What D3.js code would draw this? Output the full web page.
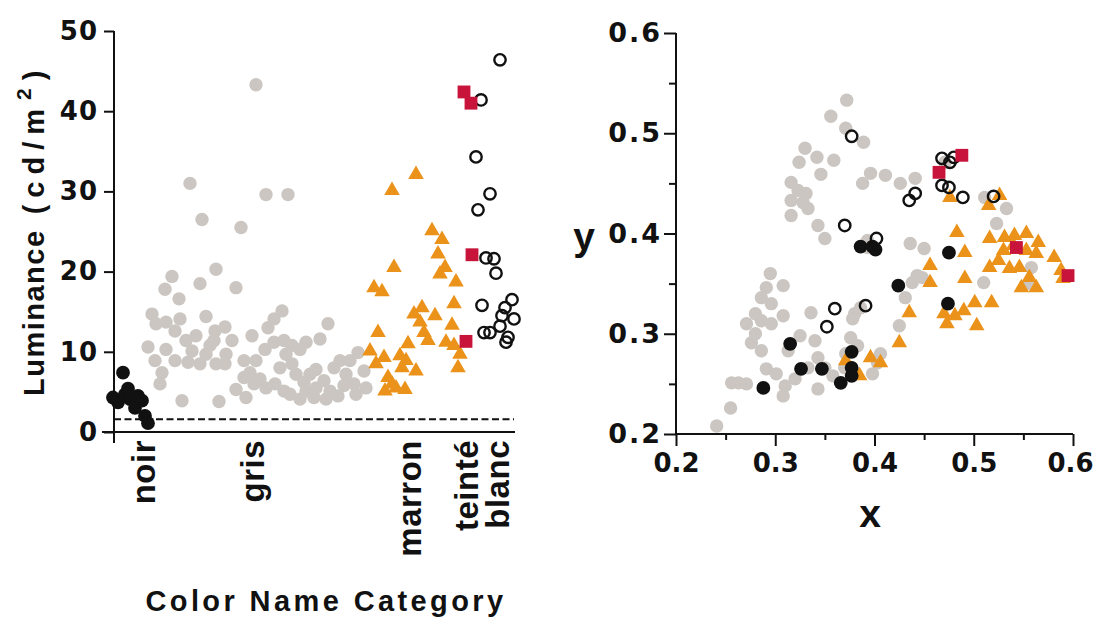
<!DOCTYPE html>
<html>
<head>
<meta charset="utf-8">
<script src="https://cdn.jsdelivr.net/npm/d3@7"></script>
<style>
body { margin: 0; background: #fff; }
svg { display: block; }
</style>
</head>
<body>
<script>
// ---- data ----
// left panel: [jitter position along category axis, luminance cd/m2]
var categories = ["noir", "gris", "marron", "teinté", "blanc"];
var categoryPos = [16, 70.5, 149, 177.5, 193];
var lumTicks = [0, 10, 20, 30, 40, 50];
var lumThreshold = 1.6;

var noirLum = [[4.5,7.4],[-0.5,4.3],[2,3.7],[5.5,4.7],[7,5.4],[8,4.1],[10.5,3.0],[14,3.9],[15.5,2.0],[17,1.1],[12,4.5]];

var grisLum = [
  [71,43.3],[38,31.0],[76,29.6],[87,29.6],[44,26.5],[63.5,25.5],[51,20.3],[29,19.4],[43,18.5],[25.5,17.8],[61,18.0],[32.5,16.6],
  [19,14.7],[21,13.5],[26,13.7],[33,14.1],[30.5,12.6],[46,14.4],[50.5,12.6],[55.5,13.1],[84,15.1],[80,14.1],[77,13.0],[69,12.0],[107,13.5],[103,11.6],
  [17,10.6],[26,10.3],[20.5,8.9],[24,7.4],[23,6.0],[30.5,8.9],[36,11.4],[41,12.0],[39,10.1],[43,8.5],[48,10.8],[51,8.5],[56,9.7],[59,11.4],[55.5,8.5],
  [65,8.9],[68,7.4],[61,5.3],[66,4.3],[71,8.9],[75.5,10.3],[80,11.2],[85,11.4],[89,10.8],[93,10.3],[96,11.2],
  [73,6.6],[76,5.5],[80.5,6.0],[85,5.1],[89,8.5],[91,7.2],[95,6.2],[98,7.2],[101,5.5],[105,6.4],[108,5.1],[110,8.0],[113,8.9],[116,7.2],
  [120,6.0],[121,4.7],[125,7.6],[126,5.5],[122,9.9],[118,8.9],[112,4.5],[93,4.1],[100,4.3],[106,4.1],
  [34,3.9],[52.5,3.8],[88,4.7],[86,9.7],[37,8.7],[46,9.7],[50,11.4],[65,6.8],[70,6.0],[83,8.0],[96,5.1],[115,5.8],[101,7.8]
];

var marronLum = [
  [151,32.1],[139,30.1],[159,25.1],[164,24.0],[162,22.2],[165.5,20.5],[163,19.7],[140,20.5],[130,18.0],[134,17.5],[171,18.7],[170,16.0],
  [154,15.5],[150,14.7],[153,13.7],[160.5,14.5],[169,13.3],[132,12.4],[155,12.4],[157,11.4],[147,11.0],[166,11.2],[170,10.8],
  [128,10.1],[135,9.3],[131,8.5],[143,9.5],[146,8.9],[144,8.0],[151,7.6],[173,9.7],[172,8.0],[137,6.8],[139,6.0],[135.5,5.1],[141,5.5],[145.5,5.3]
];

var teinteLum = [[175,42.4],[178.5,41.0],[179,22.1],[176,11.3]];

var blancLum = [
  [193,46.4],[183.5,41.4],[181,34.3],[188,29.7],[182,27.7],[186,21.7],[190,21.6],[191,19.8],[184,15.8],
  [199,16.5],[195.5,15.5],[194,14.5],[200,14.1],[185,12.4],[188,12.4],[193,13.2],[197,11.8],[196,11.2]
];

// right panel: CIE chromaticity [x, y]
var chromTicks = [0.2, 0.3, 0.4, 0.5, 0.6];
var chromMinor = [0.25, 0.35, 0.45, 0.55];

var grisXY = [
  [0.372,0.533],[0.356,0.517],[0.371,0.505],[0.389,0.491],[0.330,0.485],[0.342,0.476],[0.359,0.473],[0.324,0.471],[0.346,0.459],
  [0.316,0.451],[0.323,0.443],[0.331,0.440],[0.316,0.433],[0.328,0.431],[0.333,0.425],[0.316,0.418],
  [0.388,0.450],[0.396,0.460],[0.411,0.458],[0.426,0.450],[0.441,0.455],[0.343,0.408],[0.350,0.395],[0.393,0.393],[0.436,0.390],
  [0.450,0.385],[0.471,0.471],[0.511,0.436],[0.533,0.425],[0.523,0.410],
  [0.443,0.358],[0.438,0.351],[0.448,0.356],[0.431,0.336],[0.425,0.308],[0.510,0.351],[0.558,0.366],[0.556,0.350],
  [0.295,0.360],[0.291,0.346],[0.286,0.336],[0.296,0.330],[0.308,0.348],[0.308,0.318],[0.280,0.320],[0.271,0.310],[0.286,0.313],
  [0.296,0.310],[0.276,0.291],[0.286,0.283],[0.280,0.300],
  [0.336,0.321],[0.325,0.298],[0.340,0.293],[0.313,0.283],[0.291,0.265],[0.301,0.260],[0.310,0.248],[0.308,0.238],[0.320,0.255],
  [0.333,0.266],[0.343,0.276],[0.350,0.266],[0.343,0.245],[0.358,0.258],[0.370,0.266],
  [0.376,0.296],[0.383,0.288],[0.380,0.320],[0.378,0.315],[0.386,0.326],[0.371,0.280],[0.398,0.260],[0.406,0.280],[0.403,0.271],
  [0.256,0.251],[0.271,0.250],[0.263,0.251],[0.255,0.226],[0.241,0.208],[0.393,0.386]
];

var marronXY = [
  [0.526,0.438],[0.515,0.428],[0.476,0.436],[0.483,0.401],[0.516,0.395],[0.491,0.381],[0.531,0.396],[0.541,0.398],[0.553,0.400],
  [0.565,0.391],[0.530,0.383],[0.540,0.388],[0.553,0.383],[0.563,0.380],[0.581,0.376],[0.525,0.373],[0.516,0.366],[0.536,0.365],
  [0.546,0.366],[0.588,0.363],[0.590,0.355],[0.548,0.346],[0.563,0.346],[0.556,0.356],[0.491,0.355],[0.456,0.368],[0.456,0.351],
  [0.501,0.331],[0.518,0.331],[0.490,0.323],[0.470,0.320],[0.481,0.318],[0.473,0.310],[0.503,0.308],[0.435,0.321],[0.425,0.291],
  [0.396,0.276],[0.406,0.271],[0.371,0.273],[0.385,0.258]
];

var teinteXY = [[0.488,0.478],[0.465,0.461],[0.543,0.386],[0.595,0.358]];

var noirXY = [
  [0.288,0.246],[0.315,0.290],[0.326,0.265],[0.347,0.265],[0.366,0.251],[0.377,0.282],[0.377,0.266],[0.377,0.258],
  [0.386,0.387],[0.398,0.387],[0.401,0.384],[0.424,0.348],[0.475,0.381],[0.474,0.330]
];

var blancXY = [
  [0.377,0.497],[0.370,0.408],[0.402,0.395],[0.360,0.325],[0.352,0.307],[0.391,0.328],[0.435,0.433],[0.441,0.440],
  [0.468,0.448],[0.475,0.446],[0.489,0.436],[0.520,0.437],[0.468,0.475],[0.476,0.471],[0.480,0.476]
];

// ---- colours ----
var grayFill = "#cbc6c1";
var orangeFill = "#eb921b";
var redFill = "#c8143a";
var ink = "#111";
var textFont = "Liberation Sans, Arial, sans-serif";

var w = 1098;
var h = 619;

var svg = d3.select("body")
            .append("svg")
            .attr("width", w)
            .attr("height", h);

// scales
var xL = d3.scaleLinear().domain([0, 200]).range([114, 514]);
var yL = d3.scaleLinear().domain([0, 50]).range([432, 31]);
var xR = d3.scaleLinear().domain([0.2, 0.6]).range([676, 1073]);
var yR = d3.scaleLinear().domain([0.2, 0.6]).range([434, 33]);

var triangle = d3.symbol().type(d3.symbolTriangle).size(105);
var square = d3.symbol().type(d3.symbolSquare).size(165);

//draw one panel's worth of markers
function drawMarks(g, xs, ys, sets) {
    g.selectAll("circle.gris")
        .data(sets.gris).enter().append("circle")
        .attr("class", "gris")
        .attr("cx", function(d) { return xs(d[0]); })
        .attr("cy", function(d) { return ys(d[1]); })
        .attr("r", 6.7)
        .style("fill", grayFill);

    g.selectAll("path.marron")
        .data(sets.marron).enter().append("path")
        .attr("class", "marron")
        .attr("d", triangle)
        .attr("transform", function(d) { return "translate(" + xs(d[0]) + "," + ys(d[1]) + ")"; })
        .style("fill", orangeFill);

    g.selectAll("circle.blanc")
        .data(sets.blanc).enter().append("circle")
        .attr("class", "blanc")
        .attr("cx", function(d) { return xs(d[0]); })
        .attr("cy", function(d) { return ys(d[1]); })
        .attr("r", 5.7)
        .style("fill", "none")
        .style("stroke", ink)
        .style("stroke-width", 2.4);

    g.selectAll("path.teinte")
        .data(sets.teinte).enter().append("path")
        .attr("class", "teinte")
        .attr("d", square)
        .attr("transform", function(d) { return "translate(" + xs(d[0]) + "," + ys(d[1]) + ")"; })
        .style("fill", redFill);

    g.selectAll("circle.noir")
        .data(sets.noir).enter().append("circle")
        .attr("class", "noir")
        .attr("cx", function(d) { return xs(d[0]); })
        .attr("cy", function(d) { return ys(d[1]); })
        .attr("r", 6.9)
        .style("fill", ink);
}

function styleAxis(g, size) {
    g.select(".domain").remove();
    g.attr("font-family", "DejaVu Sans").attr("font-weight", "bold").attr("font-size", size);
    g.selectAll("line").attr("stroke", ink).attr("stroke-width", 2);
    g.selectAll("text").attr("fill", ink);
}

// ---------------- left panel ----------------
var left = svg.append("g");

// threshold dashed line
left.append("line")
    .attr("x1", xL(0)).attr("x2", xL(200))
    .attr("y1", yL(lumThreshold)).attr("y2", yL(lumThreshold))
    .attr("stroke", ink).attr("stroke-width", 2)
    .attr("stroke-dasharray", "7,3.5");

drawMarks(left, xL, yL, {gris: grisLum, marron: marronLum, blanc: blancLum, teinte: teinteLum, noir: noirLum});

var yAxisL = left.append("g")
    .attr("transform", "translate(" + xL(0) + ",0)")
    .call(d3.axisLeft(yL).tickValues(lumTicks).tickSize(10).tickPadding(6));
styleAxis(yAxisL, 26);
yAxisL.selectAll("text").attr("letter-spacing", 1);

// axis lines
left.append("line")
    .attr("x1", xL(0)).attr("x2", xL(0))
    .attr("y1", yL(50)).attr("y2", yL(0) + 11)
    .attr("stroke", ink).attr("stroke-width", 2);
left.append("line")
    .attr("x1", xL(-6)).attr("x2", xL(200.5))
    .attr("y1", yL(0)).attr("y2", yL(0))
    .attr("stroke", ink).attr("stroke-width", 2);

// category labels
left.selectAll("text.cat")
    .data(categories).enter().append("text")
    .attr("class", "cat")
    .attr("transform", function(d, i) { return "translate(" + (xL(categoryPos[i]) + 9) + ",440) rotate(-90)"; })
    .attr("text-anchor", "end")
    .attr("letter-spacing", 0.5)
    .style("font-family", textFont)
    .style("font-weight", "bold")
    .style("font-size", "33px")
    .style("fill", ink)
    .text(function(d) { return d; });

// y title
var ttl = left.append("text")
    .attr("transform", "translate(44,396) rotate(-90)")
    .style("font-family", textFont)
    .style("font-weight", "bold")
    .style("font-size", "29px")
    .style("fill", ink);
ttl.append("tspan").attr("letter-spacing", 1.5).text("Luminance");
ttl.append("tspan").attr("letter-spacing", 7).text(" (cd/m");
ttl.append("tspan").attr("dy", -13).attr("dx", 2).style("font-size", "21px").text("2");
ttl.append("tspan").attr("dy", 13).attr("dx", 8).text(")");

// x title
left.append("text")
    .attr("x", 326).attr("y", 611)
    .attr("text-anchor", "middle")
    .attr("letter-spacing", 3.4)
    .style("font-family", textFont)
    .style("font-weight", "bold")
    .style("font-size", "29px")
    .style("fill", ink)
    .text("Color Name Category");

// ---------------- right panel ----------------
var right = svg.append("g");

drawMarks(right, xR, yR, {gris: grisXY, marron: marronXY, blanc: blancXY, teinte: teinteXY, noir: noirXY});

var yAxisR = right.append("g")
    .attr("transform", "translate(" + xR(0.2) + ",0)")
    .call(d3.axisLeft(yR).tickValues(chromTicks).tickSize(12).tickPadding(2).tickFormat(d3.format(".1f")));
styleAxis(yAxisR, 27);
yAxisR.selectAll("text").attr("letter-spacing", 2);

var yMinorR = right.append("g")
    .attr("transform", "translate(" + xR(0.2) + ",0)")
    .call(d3.axisLeft(yR).tickValues(chromMinor).tickSize(7).tickFormat(""));
styleAxis(yMinorR, 10);

var xAxisR = right.append("g")
    .attr("transform", "translate(0," + yR(0.2) + ")")
    .call(d3.axisBottom(xR).tickValues(chromTicks).tickSize(12).tickPadding(8).tickFormat(d3.format(".1f")));
styleAxis(xAxisR, 26);
// keep the last label inside the page edge
xAxisR.selectAll("text").attr("dx", function(d) { return d === 0.6 ? -3 : 0; });

var xMinorR = right.append("g")
    .attr("transform", "translate(0," + yR(0.2) + ")")
    .call(d3.axisBottom(xR).tickValues(chromMinor).tickSize(6).tickFormat(""));
styleAxis(xMinorR, 10);

right.append("line")
    .attr("x1", xR(0.2)).attr("x2", xR(0.2))
    .attr("y1", yR(0.6)).attr("y2", yR(0.2))
    .attr("stroke", ink).attr("stroke-width", 2);
right.append("line")
    .attr("x1", xR(0.2)).attr("x2", xR(0.6))
    .attr("y1", yR(0.2)).attr("y2", yR(0.2))
    .attr("stroke", ink).attr("stroke-width", 2);

right.append("text")
    .attr("x", 584).attr("y", 250)
    .attr("text-anchor", "middle")
    .style("font-family", textFont)
    .style("font-weight", "bold")
    .style("font-size", "39px")
    .style("fill", ink)
    .text("y");

right.append("text")
    .attr("x", 870).attr("y", 527)
    .attr("text-anchor", "middle")
    .style("font-family", textFont)
    .style("font-weight", "bold")
    .style("font-size", "39px")
    .style("fill", ink)
    .text("x");
</script>
</body>
</html>
